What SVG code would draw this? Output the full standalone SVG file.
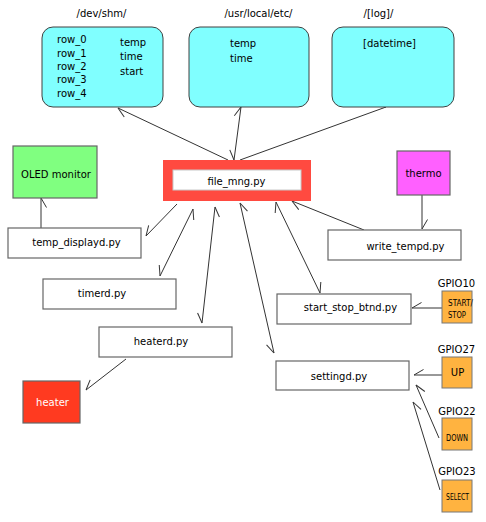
<svg xmlns="http://www.w3.org/2000/svg" width="486" height="522" viewBox="0 0 486 522">
<style>
text{font-family:"DejaVu Sans","Liberation Sans",sans-serif;font-size:10px;fill:#000}
.c{text-anchor:middle}
.store{fill:#80ffff;stroke:#404040;stroke-width:1}
.proc{fill:#fff;stroke:#666;stroke-width:1.2}
.dev{stroke:#666;stroke-width:1.2}
.btn{fill:#ffb340;stroke:#777;stroke-width:1}
.cond{font-size:9px}
#connectors path{fill:none;stroke:#333;stroke-width:1}
.barb{fill:none;stroke:#333;stroke-width:1}
</style>
<defs>
<marker id="br" markerUnits="userSpaceOnUse" orient="auto-start-reverse" markerWidth="1" markerHeight="1" refX="0" refY="0" overflow="visible"><path class="barb" d="M0,0 L-9.5,5.5"/></marker>
<marker id="bl" markerUnits="userSpaceOnUse" orient="auto-start-reverse" markerWidth="1" markerHeight="1" refX="0" refY="0" overflow="visible"><path class="barb" d="M0,0 L-9.5,-5.5"/></marker>
</defs>
<rect width="486" height="522" fill="#fff"/>

<g id="connectors">
<path d="M228,160 L118,108" marker-end="url(#bl)"/>
<path d="M234,160 L241,107" marker-start="url(#br)" marker-end="url(#bl)"/>
<path d="M240,160 L386,107" marker-end="url(#bl)"/>
<path d="M177,204 L146,236" marker-end="url(#br)"/>
<path d="M193,209 L160,276" marker-start="url(#br)" marker-end="url(#br)"/>
<path d="M215,207 L202,323" marker-start="url(#br)" marker-end="url(#br)"/>
<path d="M240,203 L274,353" marker-start="url(#br)" marker-end="url(#br)"/>
<path d="M276,202 L320,293" marker-start="url(#bl)" marker-end="url(#bl)"/>
<path d="M364,230 L292,201" marker-end="url(#bl)"/>
<path d="M422,195 L422,229" marker-end="url(#bl)"/>
<path d="M41,228 L41,198" marker-end="url(#br)"/>
<path d="M126,359 L86,390" marker-end="url(#br)"/>
<path d="M442,308 L412,308" marker-end="url(#br)"/>
<path d="M442,375 L414,375" marker-end="url(#br)"/>
<path d="M439,438 L416,385" marker-end="url(#br)"/>
<path d="M440,490 L413,402" marker-end="url(#br)"/>
</g>

<g id="shm">
<text class="c" x="101.5" y="17">/dev/shm/</text>
<rect class="store" x="42" y="27" width="121" height="80" rx="11"/>
<text x="57" y="42.5">row_0</text>
<text x="57" y="56.5">row_1</text>
<text x="57" y="69.5">row_2</text>
<text x="57" y="82.5">row_3</text>
<text x="57" y="96.5">row_4</text>
<text x="120" y="45.5">temp</text>
<text x="120" y="59.5">time</text>
<text x="120" y="74.5">start</text>
</g>

<g id="etc">
<text class="c" x="258.5" y="17">/usr/local/etc/</text>
<rect class="store" x="189" y="27" width="120" height="80" rx="11"/>
<text x="230" y="46.5">temp</text>
<text x="230" y="61.5">time</text>
</g>

<g id="log">
<text class="c" x="378.5" y="17">/[log]/</text>
<rect class="store" x="332" y="27" width="122" height="80" rx="11"/>
<text class="c" x="389.5" y="46.5">[datetime]</text>
</g>

<g id="file_mng">
<rect x="163" y="160" width="148" height="41" fill="#ff4a40"/>
<rect x="173" y="170" width="128" height="20" fill="#fff" stroke="#c8c8c8" stroke-width="1"/>
<text class="c" x="236.5" y="184.5">file_mng.py</text>
</g>

<g id="oled">
<rect class="dev" x="13" y="146" width="84" height="52" fill="#80ff80"/>
<text class="c" x="56" y="177.5">OLED monitor</text>
</g>

<g id="thermo">
<rect class="dev" x="397" y="151" width="53" height="44" fill="#ff60ff"/>
<text class="c" x="423.5" y="176.5">thermo</text>
</g>

<g id="temp_displayd">
<rect class="proc" x="8" y="228" width="133" height="30"/>
<text class="c" x="76.5" y="245.5">temp_displayd.py</text>
</g>

<g id="write_tempd">
<rect class="proc" x="328" y="230" width="133" height="30"/>
<text class="c" x="405.5" y="249.5">write_tempd.py</text>
</g>

<g id="timerd">
<rect class="proc" x="43" y="279" width="133" height="30"/>
<text class="c" x="102" y="296.5">timerd.py</text>
</g>

<g id="heaterd">
<rect class="proc" x="99" y="327" width="133" height="30"/>
<text class="c" x="161" y="344.5">heaterd.py</text>
</g>

<g id="heater">
<rect class="dev" x="23" y="381" width="57" height="42" fill="#ff3a20"/>
<text class="c" x="52.5" y="405.5" style="fill:#fff">heater</text>
</g>

<g id="start_stop_btnd">
<rect class="proc" x="277" y="294" width="134" height="30"/>
<text class="c" x="350.5" y="310.5">start_stop_btnd.py</text>
</g>

<g id="settingd">
<rect class="proc" x="276" y="361" width="133" height="29"/>
<text class="c" x="339" y="379.5">settingd.py</text>
</g>

<g id="gpio10">
<text class="c" x="456.5" y="286.5">GPIO10</text>
<rect class="btn" x="442" y="291" width="30" height="32"/>
<text class="cond" x="448" y="305.5" textLength="25" lengthAdjust="spacingAndGlyphs">START/</text>
<text class="cond" x="448" y="317.5" textLength="18" lengthAdjust="spacingAndGlyphs">STOP</text>
</g>

<g id="gpio27">
<text class="c" x="456.5" y="352.5">GPIO27</text>
<rect class="btn" x="442" y="357" width="30" height="31"/>
<text class="c" x="457.5" y="375.5">UP</text>
</g>

<g id="gpio22">
<text class="c" x="457" y="414.5">GPIO22</text>
<rect class="btn" x="442" y="418" width="30" height="32"/>
<text class="cond" x="446" y="440.5" textLength="22" lengthAdjust="spacingAndGlyphs">DOWN</text>
</g>

<g id="gpio23">
<text class="c" x="457" y="474.5">GPIO23</text>
<rect class="btn" x="442" y="480" width="30" height="32"/>
<text class="cond" x="446" y="499.5" textLength="23" lengthAdjust="spacingAndGlyphs">SELECT</text>
</g>
</svg>
